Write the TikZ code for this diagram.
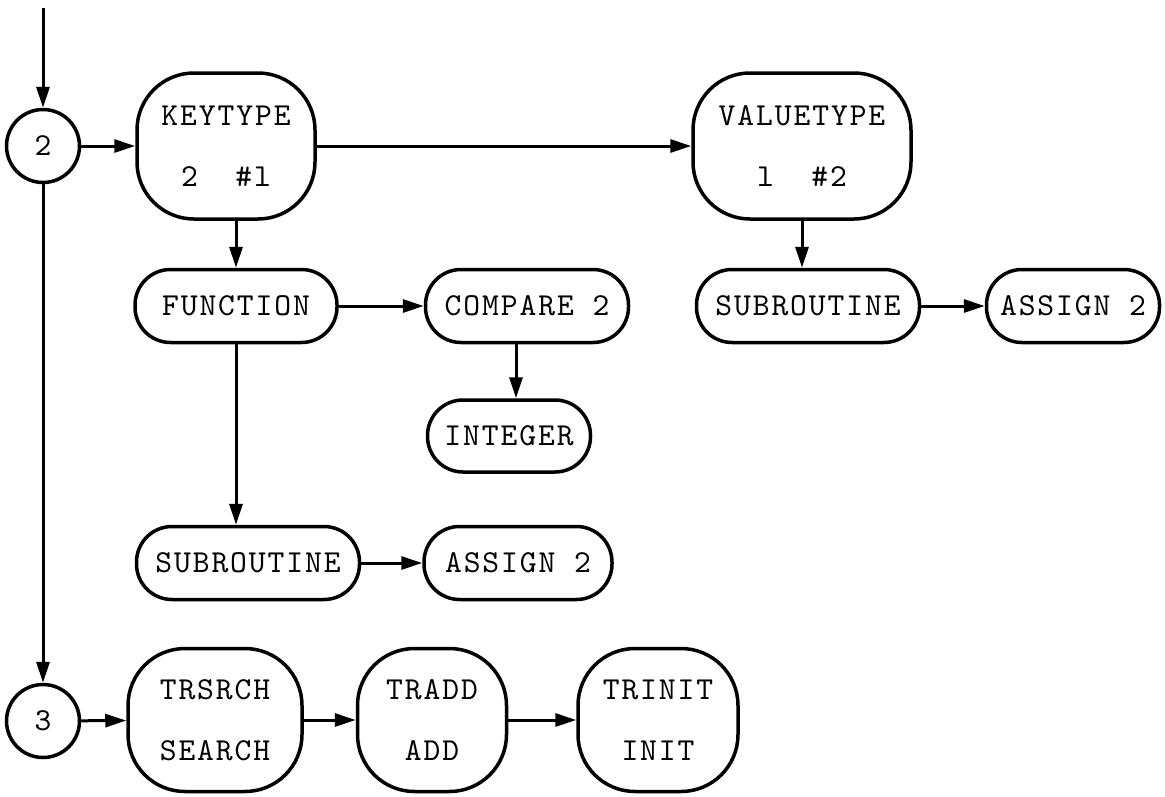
\documentclass[tikz,border=0pt]{standalone}
\usepackage{fontspec}
\usetikzlibrary{arrows.meta}

% typewriter lettering, slightly letter-spaced
\newfontfamily\typefam[LetterSpace=6]{lmmono10-regular.otf}
\newcommand\diagfont{\typefam\fontsize{32pt}{61pt}\selectfont}

\tikzset{
  tallbox/.style={draw, line width=3.5pt, rounded corners=57pt, minimum height=146pt,
                  inner sep=0pt, align=center, font=\diagfont},
  pill/.style={draw, line width=3.5pt, rounded corners=35.5pt, minimum height=73pt,
               inner sep=0pt, font=\diagfont},
  ring/.style={draw, circle, line width=3.5pt, minimum size=73pt, inner sep=0pt, font=\diagfont},
  arr/.style={line width=3pt, -{Triangle[length=21pt,width=13pt]}},
}

\begin{document}
\begin{tikzpicture}[x=1pt, y=-1pt]
\useasboundingbox (0,0) rectangle (1165,796);

% entry point and connector circles
\coordinate (entry) at (43,8);
\node[ring] (c2) at (43,146) {2};
\node[ring] (c3) at (43,721) {3};

% key / value descriptors
\node[tallbox, minimum width=178pt] (key) at (226,146) {KEYTYPE\\2~~\#l};
\node[tallbox, minimum width=218pt] (val) at (802,146) {VALUETYPE\\l~~\#2};

% key branch
\node[pill, minimum width=202pt] (func) at (236,306) {FUNCTION};
\node[pill, minimum width=203pt] (cmp)  at (527,306) {COMPARE 2};
\node[pill, minimum width=163pt, minimum height=72pt] (int) at (509,436) {INTEGER};
\node[pill, minimum width=223pt] (subl) at (248,563) {SUBROUTINE};
\node[pill, minimum width=188pt] (asgl) at (518,563) {ASSIGN 2};

% value branch
\node[pill, minimum width=223pt] (subr) at (808,306) {SUBROUTINE};
\node[pill, minimum width=173pt] (asgr) at (1073,306) {ASSIGN 2};

% tree routines
\node[tallbox, minimum width=174pt, minimum height=143pt] (trs) at (215,720) {TRSRCH\\SEARCH};
\node[tallbox, minimum width=149pt, minimum height=143pt] (tra) at (432,720) {TRADD\\ADD};
\node[tallbox, minimum width=160pt, minimum height=143pt] (tri) at (658,720) {TRINIT\\INIT};

% connectors
\draw[arr] (entry) -- (c2);
\draw[arr] (c2) -- (key);
\draw[arr] (key) -- (val);
\draw[arr] (key.south -| func) -- (func);
\draw[arr] (func) -- (cmp);
\draw[arr] ([xshift=-11pt]cmp.south) -- ([xshift=-11pt]cmp.south |- int.north);
\draw[arr] (func) -- (func |- subl.north);
\draw[arr] (subl) -- (asgl);
\draw[arr] (val) -- (val |- subr.north);
\draw[arr] (subr) -- (asgr);
\draw[arr] (c2) -- (c3);
\draw[arr] (c3) -- (trs);
\draw[arr] (trs) -- (tra);
\draw[arr] (tra) -- (tri);
\end{tikzpicture}
\end{document}
